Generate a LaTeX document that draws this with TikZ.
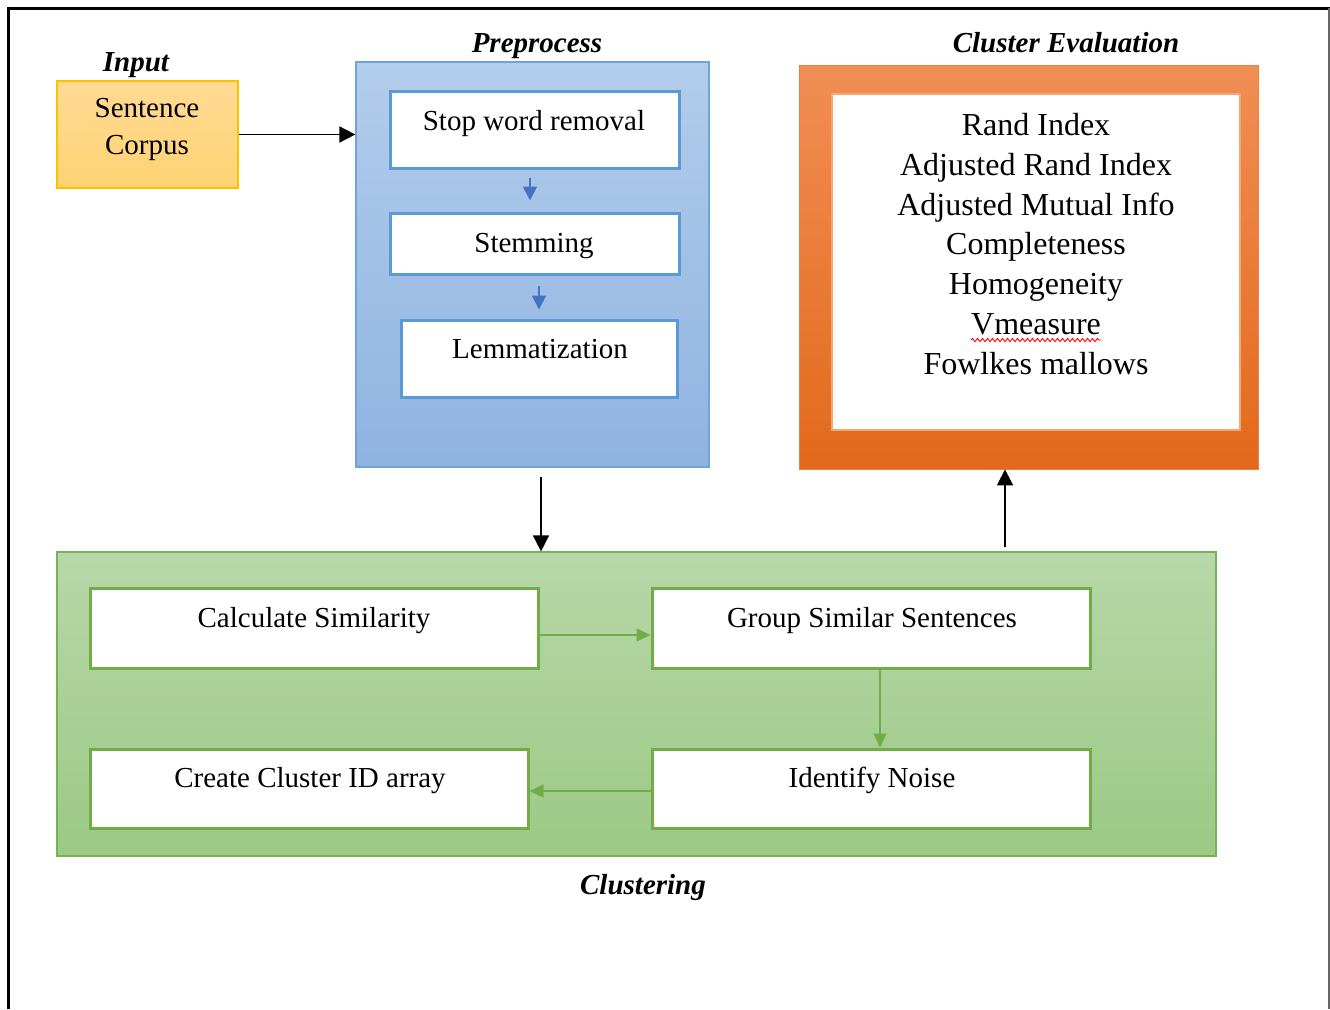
\documentclass[tikz,border=0pt]{standalone}
\usepackage{fontspec}
\setmainfont{Liberation Serif}
\usetikzlibrary{arrows.meta,calc,decorations.pathmorphing}
\definecolor{yTop}{HTML}{FFDA94}
\definecolor{yBot}{HTML}{FFD373}
\definecolor{yDraw}{HTML}{FFC000}
\definecolor{bTop}{HTML}{B3CDEB}
\definecolor{bBot}{HTML}{8FB3E1}
\definecolor{bDraw}{HTML}{6FA3DB}
\definecolor{bIn}{HTML}{5B9BD5}
\definecolor{bArr}{HTML}{4472C4}
\definecolor{oTop}{HTML}{F18E55}
\definecolor{oBot}{HTML}{E2691A}
\definecolor{oIn}{HTML}{F6A771}
\definecolor{gTop}{HTML}{B7D7A9}
\definecolor{gBot}{HTML}{9CC984}
\definecolor{gDraw}{HTML}{77B255}
\definecolor{gIn}{HTML}{70AD47}
\tikzset{
  txt/.style={anchor=base, inner sep=0pt, font=\fontsize{29}{34}\selectfont},
  evtxt/.style={anchor=base, inner sep=0pt, font=\fontsize{32}{38}\selectfont},
  lbl/.style={anchor=base, inner sep=0pt, font=\fontsize{29}{34}\selectfont\bfseries\itshape},
  bluebox/.style={draw=bIn, line width=3pt, fill=white, inner sep=0pt},
  greenbox/.style={draw=gIn, line width=3pt, fill=white, inner sep=0pt},
  blackarrow/.style={line width=1.6pt, -{Triangle[width=16pt,length=16pt]}},
  bluearrow/.style={bArr, line width=1.8pt, -{Triangle[width=14pt,length=14pt]}},
  greenarrow/.style={gIn, line width=1.3pt, -{Triangle[width=13pt,length=14pt]}},
}
\begin{document}
\begin{tikzpicture}[x=1pt,y=-1pt]
\useasboundingbox (0,0) rectangle (1330,1009);
% frame
\draw[line width=3pt] (8,1009) -- (8,8) -- (1330,8);
\draw[gray!80!black, line width=2pt] (1329,8) -- (1329,1009);

% Input
\node[lbl] (inputL) at (136,71) {Input};
\node[draw=yDraw, line width=1.5pt, top color=yTop, bottom color=yBot,
      minimum width=181pt, minimum height=107pt, inner sep=0pt] (corpus) at (147.5,134.5) {};
\node[txt] (corpusT1) at (147,117) {Sentence};
\node[txt] (corpusT2) at (147,154) {Corpus};

% Preprocess
\node[lbl] (preL) at (537,52) {Preprocess};
\node[draw=bDraw, line width=1.2pt, top color=bTop, bottom color=bBot,
      minimum width=353pt, minimum height=405pt, inner sep=0pt] (pre) at (532.5,264.5) {};
\node[bluebox, minimum width=289pt, minimum height=77pt] (stop) at (534.5,129.5) {};
\node[txt] (stopT) at (534,130) {Stop word removal};
\node[bluebox, minimum width=289pt, minimum height=61pt] (stem) at (534.5,243.5) {};
\node[txt] (stemT) at (534,252) {Stemming};
\node[bluebox, minimum width=276pt, minimum height=77pt] (lem) at (539,358.5) {};
\node[txt] (lemT) at (540,358) {Lemmatization};
\coordinate (b1) at (530,0);
\coordinate (b2) at (539,0);
\draw[bluearrow, shorten <=8pt, shorten >=11pt] (stop.south -| b1) -- (b1 |- stem.north);
\draw[bluearrow, shorten <=10pt, shorten >=9pt] (stem.south -| b2) -- (b2 |- lem.north);

% Cluster evaluation
\node[lbl] (evalL) at (1066,52) {Cluster Evaluation};
\node[top color=oTop, bottom color=oBot, draw=oTop!60!oBot, line width=0.8pt,
      minimum width=459pt, minimum height=404pt, inner sep=0pt] (eval) at (1028.5,267) {};
\node[draw=oIn, line width=2.5pt, fill=white, minimum width=408pt, minimum height=336pt,
      inner sep=0pt] (evalIn) at (1036,262) {};
\node[evtxt] (e1) at (1036,135) {Rand Index};
\node[evtxt] (e2) at (1036,175) {Adjusted Rand Index};
\node[evtxt] (e3) at (1036,215) {Adjusted Mutual Info};
\node[evtxt] (e4) at (1036,254) {Completeness};
\node[evtxt] (e5) at (1036,294) {Homogeneity};
\node[evtxt] (e6) at (1036,334) {Vmeasure};
\node[evtxt] (e7) at (1036,374) {Fowlkes mallows};
\draw[red, line width=0.9pt, decorate, decoration={snake, segment length=5pt, amplitude=1.6pt}]
  ($(e6.base west)+(0,6)$) -- ($(e6.base east)+(0,6)$);

% Clustering
\node[draw=gDraw, line width=1.2pt, top color=gTop, bottom color=gBot,
      minimum width=1159pt, minimum height=304pt, inner sep=0pt] (clus) at (636.5,704) {};
\node[lbl] (clusL) at (643,894) {Clustering};
\node[greenbox, minimum width=448pt, minimum height=80pt] (calc) at (314,628) {};
\node[txt] (calcT) at (314,627) {Calculate Similarity};
\node[greenbox, minimum width=438pt, minimum height=80pt] (group) at (871,628) {};
\node[txt] (groupT) at (872,627) {Group Similar Sentences};
\node[greenbox, minimum width=438pt, minimum height=79pt] (create) at (309,788.5) {};
\node[txt] (createT) at (310,787) {Create Cluster ID array};
\node[greenbox, minimum width=438pt, minimum height=79pt] (noise) at (871,788.5) {};
\node[txt] (noiseT) at (872,787) {Identify Noise};
\coordinate (g1) at (0,635);
\coordinate (g2) at (880,0);
\coordinate (g3) at (0,791);
\draw[greenarrow] (calc.east |- g1) -- (group.west |- g1);
\draw[greenarrow] (group.south -| g2) -- (noise.north -| g2);
\draw[greenarrow] (noise.west |- g3) -- (create.east |- g3);

% main connectors
\draw[blackarrow] (corpus.east) -- (corpus.east -| pre.west);
\coordinate (a1) at (541,0);
\coordinate (a2) at (1005,0);
\draw[blackarrow, shorten <=9pt] (pre.south -| a1) -- (clus.north -| a1);
\draw[blackarrow, shorten <=4pt] (clus.north -| a2) -- (eval.south -| a2);
\end{tikzpicture}
\end{document}
